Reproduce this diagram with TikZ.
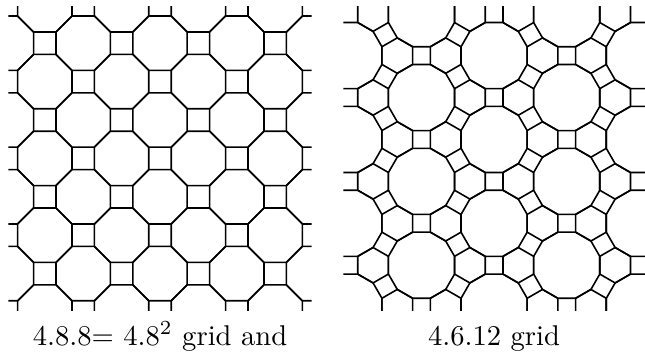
\documentclass[tikz,border=0pt]{standalone}
\usepackage{fontspec}
\begin{document}
\begin{tikzpicture}[x=1pt,y=-1pt,
  edge/.style={line width=1.6pt, line join=round},
  lbl/.style={font=\fontsize{10}{12}\selectfont, scale=2.86, anchor=base, inner sep=0pt}]
\useasboundingbox (0,0) rectangle (645,356);
% ---- 4.8.8 tiling ----
\begin{scope}
  \clip (8.3,6.7) rectangle (311.7,310.1);
  \foreach \m in {-5,...,5} {
    \foreach \n in {-5,...,5} {
      \pgfmathtruncatemacro\sm{\m+\n+20}
      \ifodd\sm
        \draw[edge, shift={(160+38.4*\m,158.4+38.4*\n)}]
          (22.5:29.4) \foreach \k in {1,...,7} { -- (22.5+45*\k:29.4) } -- cycle;
      \fi
    }
  }
\end{scope}
% ---- 4.6.12 tiling ----
\begin{scope}
  \clip (343.3,6.7) rectangle (646.6,310.1);
  \foreach \i in {-3,...,3} {
    \foreach \j in {-5,...,4} {
      \begin{scope}[shift={(494.1+72.62*\i,223.3+41.93*\i+83.85*\j)}]
        \draw[edge] (15:34.23) \foreach \k in {1,...,11} { -- (15+30*\k:34.23) } -- cycle;
        \draw[edge, shift={(48.41,0)}] (30:17.72) \foreach \k in {1,...,5} { -- (30+60*\k:17.72) } -- cycle;
        \draw[edge, shift={(24.21,41.93)}] (30:17.72) \foreach \k in {1,...,5} { -- (30+60*\k:17.72) } -- cycle;
      \end{scope}
    }
  }
\end{scope}
\node[lbl] (capA) at (160,345) {4.8.8= 4.8$^2$ grid and};
\node[lbl] (capB) at (494,345) {4.6.12 grid};
\end{tikzpicture}
\end{document}
